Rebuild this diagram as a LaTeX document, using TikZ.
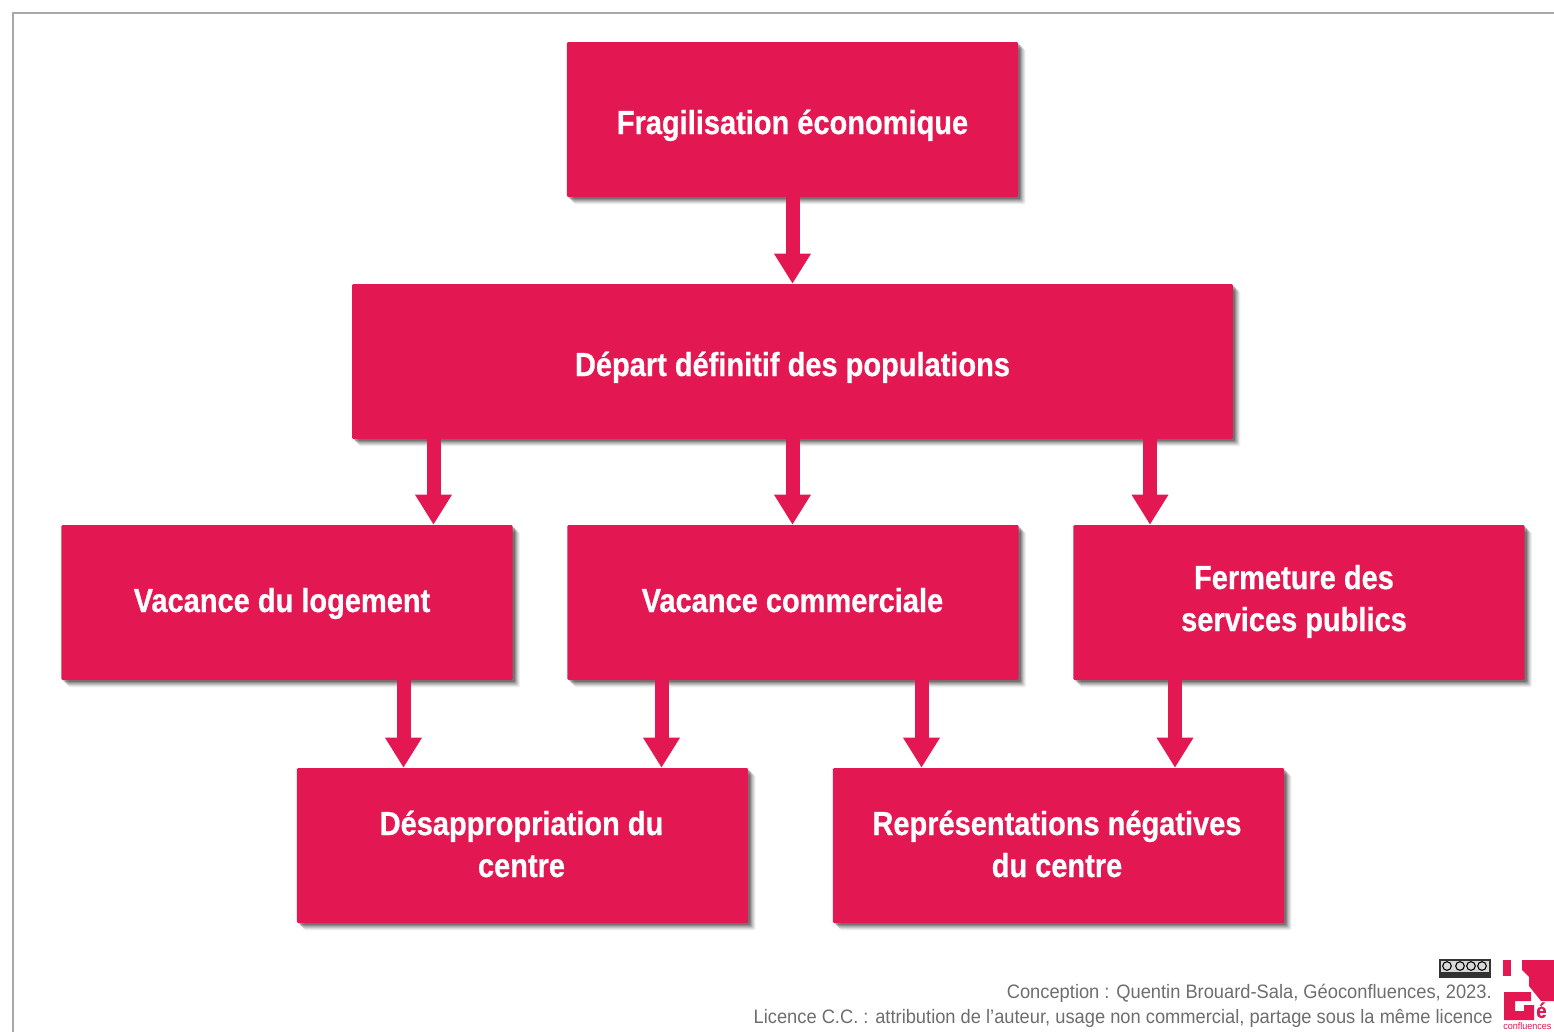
\documentclass[tikz,border=0pt]{standalone}
\usepackage{fontspec}
\setmainfont{Liberation Sans}
\newfontfamily\boxfont[FakeStretch=0.87,FakeBold=0.6]{Liberation Sans Bold}
\newfontfamily\footfont[FakeStretch=0.94]{Liberation Sans}
\usetikzlibrary{arrows.meta,shadows}
\definecolor{geored}{HTML}{E31752}
\definecolor{footgray}{HTML}{6E6E6E}
\definecolor{framegray}{HTML}{A8A8A8}
\tikzset{
  x=0.75pt,y=-0.75pt,
  softshadow/.style={
    general shadow={shadow xshift=5.6pt,shadow yshift=-5.6pt,fill=black,opacity=.05},
    general shadow={shadow xshift=4.8pt,shadow yshift=-4.8pt,fill=black,opacity=.07},
    general shadow={shadow xshift=4.0pt,shadow yshift=-4.0pt,fill=black,opacity=.10},
    general shadow={shadow xshift=3.2pt,shadow yshift=-3.2pt,fill=black,opacity=.13},
    general shadow={shadow xshift=2.4pt,shadow yshift=-2.4pt,fill=black,opacity=.16},
    general shadow={shadow xshift=1.6pt,shadow yshift=-1.6pt,fill=black,opacity=.20}},
  boxa/.style={fill=geored,draw=none,rounded corners=1pt,inner sep=0pt,minimum height=116.25pt,softshadow},
  boxn/.style={boxa,minimum width=338.5pt},
  boxw/.style={boxa,minimum width=660.75pt},
  lab/.style={anchor=base,text=white,font=\boxfont\fontsize{25}{25}\selectfont,inner sep=0pt},
  foot/.style={anchor=base east,text=footgray,font=\footfont\fontsize{14.6}{14.6}\selectfont,inner sep=0pt},
  conn/.style={draw=geored,line width=10.5pt,-{Triangle[length=22.5pt,width=26pt]}},
}
\begin{document}
\begin{tikzpicture}
\useasboundingbox (0,0) rectangle (1554,1032);
\fill[white] (0,0) rectangle (1554,1032);
\coordinate (frameA) at (13,1032);
\coordinate (frameB) at (13,13);
\coordinate (frameC) at (1554,13);
\draw[framegray,line width=1.3pt] (frameA) -- (frameB) -- (frameC);

\node[boxn] (fragil) at (792.5,119.5) {};
\node[boxw] (depart) at (792.5,361.5) {};
\node[boxn] (logement) at (287,602.5) {};
\node[boxn] (commerce) at (793,602.5) {};
\node[boxn] (services) at (1299,602.5) {};
\node[boxn] (desappro) at (522.5,845.5) {};
\node[boxn] (represent) at (1058.5,845.5) {};

\node[lab] (t1) at (792.5,134) {Fragilisation économique};
\node[lab] (t2) at (792.5,376) {Départ définitif des populations};
\node[lab] (t3) at (282,612) {Vacance du logement};
\node[lab] (t4) at (792.5,612) {Vacance commerciale};
\node[lab] (t5a) at (1294,589) {Fermeture des};
\node[lab] (t5b) at (1294,631) {services publics};
\node[lab] (t6a) at (521.5,835) {Désappropriation du};
\node[lab] (t6b) at (521.5,877) {centre};
\node[lab] (t7a) at (1057,835) {Représentations négatives};
\node[lab] (t7b) at (1057,877) {du centre};

\coordinate (a0) at (792.5,0);
\coordinate (a1) at (433.5,0);
\coordinate (a2) at (1150,0);
\coordinate (a3) at (403.5,0);
\coordinate (a4) at (661.5,0);
\coordinate (a5) at (921.5,0);
\coordinate (a6) at (1175,0);
\draw[conn] (fragil.south -| a0) -- (depart.north -| a0);
\draw[conn] (depart.south -| a1) -- (logement.north -| a1);
\draw[conn] (depart.south -| a0) -- (commerce.north -| a0);
\draw[conn] (depart.south -| a2) -- (services.north -| a2);
\draw[conn] (logement.south -| a3) -- (desappro.north -| a3);
\draw[conn] (commerce.south -| a4) -- (desappro.north -| a4);
\draw[conn] (commerce.south -| a5) -- (represent.north -| a5);
\draw[conn] (services.south -| a6) -- (represent.north -| a6);

\node[foot] (f1) at (1492,998) {Conception : Quentin Brouard-Sala, Géoconfluences, 2023.};
\node[foot] (f2) at (1493,1023) {Licence C.C. : attribution de l’auteur, usage non commercial, partage sous la même licence};

% CC badge
\fill[black!80] (1439,959) rectangle (1491,978);
\fill[white!85!black] (1441,960.5) rectangle (1489,972);
\foreach \cx in {1447,1460,1471,1482}
  \draw[black,line width=.8pt] (\cx,966) circle (4.3);

% logo
\fill[geored] (1503,960) rectangle (1511,976);
\fill[geored] (1522,960) -- (1554,960) -- (1554,1001) -- (1541,1001) -- (1529,986) -- (1529,977) -- (1522,970) -- cycle;
\fill[geored] (1504,992) -- (1531,992) -- (1531,1001) -- (1515,1001) -- (1515,1011) -- (1524,1011) -- (1524,1005) -- (1534,1005) -- (1534,1020) -- (1504,1020) -- cycle;
\node[anchor=base west,text=geored,inner sep=0pt,font=\boxfont\fontsize{16}{16}\selectfont] (gelog) at (1536,1018) {é};
\node[anchor=base west,text=geored,inner sep=0pt,font=\footfont\fontsize{7.2}{7.2}\selectfont] (conflog) at (1503,1029) {confluences};
\end{tikzpicture}
\end{document}
